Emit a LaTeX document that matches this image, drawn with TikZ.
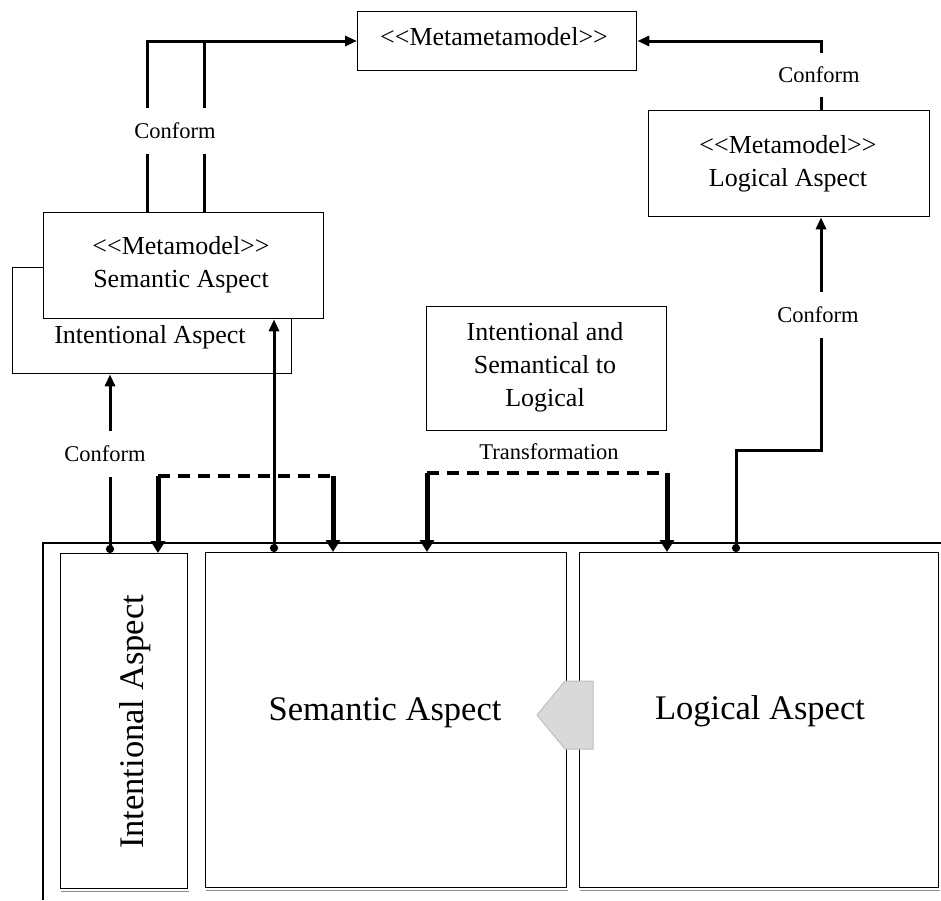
\documentclass[tikz,border=0pt]{standalone}
\usepackage{fontspec}
\setmainfont{Liberation Serif}
\usetikzlibrary{arrows.meta,calc}
\begin{document}
\begin{tikzpicture}[x=1pt,y=-1pt,
  box/.style={draw,line width=1.3pt,fill=white,inner sep=0pt},
  mid/.style={font=\fontsize{26}{33}\selectfont,align=center,inner sep=0pt},
  small/.style={font=\fontsize{22.5}{25}\selectfont,inner sep=0pt},
  big/.style={font=\fontsize{34.5}{38}\selectfont,inner sep=0pt},
  gap/.style={small,fill=white,minimum height=#1},
  conn/.style={line width=3pt,-{Triangle[length=12pt,width=10pt]}},
  dotconn/.style={line width=3pt,{Circle[length=8pt]}-{Triangle[length=12pt,width=10pt]}},
  tline/.style={line width=3.6pt,dash pattern=on 12pt off 8pt},
  tdrop/.style={line width=5pt,-{Triangle[length=12pt,width=14pt]}},
  shade/.style={draw=black!45,line width=1.2pt}]
\useasboundingbox (0,0) rectangle (941,900);

% ---- upper models
\node[box,anchor=north west,minimum width=279pt,minimum height=59pt] (mm) at (357,11) {};
\node[mid] (mmt) at (494,37) {{<}{<}Metametamodel{>}{>}};

\node[box,anchor=north west,minimum width=279pt,minimum height=106pt] (intb) at (12,267) {};
\node[box,anchor=north west,minimum width=280pt,minimum height=106pt] (sem) at (43,212) {};
\node[mid] (semt) at (181,265) {{<}{<}Metamodel{>}{>}\\Semantic Aspect};
\node[mid] (intbt) at (150,337) {Intentional Aspect};

\node[box,anchor=north west,minimum width=281pt,minimum height=106pt] (mlog) at (648,110) {};
\node[mid] (mlogt) at (788,164) {{<}{<}Metamodel{>}{>}\\Logical Aspect};

\node[box,anchor=north west,minimum width=240pt,minimum height=124pt] (tr) at (426,306) {};
\node[mid] (trt) at (545,367) {Intentional and\\Semantical to\\Logical};
\node[small] (trl) at (549,452) {Transformation};

% ---- lower frame and aspects
\draw[line width=1.3pt] (43,900) -- (43,543) -- (941,543);
\node[box,anchor=north west,minimum width=127pt,minimum height=335pt] (int) at (60,553) {};
\node[box,anchor=north west,minimum width=361pt,minimum height=335pt] (se) at (205,552) {};
\node[box,anchor=north west,minimum width=359pt,minimum height=335pt] (lo) at (579,552) {};
% faint second line under each aspect
\foreach \b in {int,se,lo}
  \draw[shade] ($(\b.south west)+(1,2.2)$) -- ($(\b.south east)+(1,2.2)$);
\node[big,rotate=90] (intt) at (135,722) {Intentional Aspect};
\node[big] (set) at (385,713) {Semantic Aspect};
\node[big] (lot) at (760,711) {Logical Aspect};

% grey block arrow between the two aspects
\draw[draw=black!25,fill=black!15,line width=1pt]
  (537,715) -- (565,681) -- (593,681) -- (593,749) -- (565,749) -- cycle;

% ---- conform: semantic metamodel to metametamodel
\coordinate (xa) at (147,0);
\coordinate (xb) at (204,0);
\coordinate (ytop) at (0,41);
\draw[conn] (sem.north -| xa) -- (xa |- ytop) -- (mm.west |- ytop);
\draw[line width=3pt] (sem.north -| xb) -- (xb |- ytop);
\node[gap=46pt] (cf1) at (175,131) {Conform};

% ---- conform: logical metamodel to metametamodel
\coordinate (xc) at (821,0);
\draw[conn] (mlog.north -| xc) -- (xc |- ytop) -- (mm.east |- ytop);
\node[gap=44pt] (cf2) at (819,75) {Conform};

% ---- conform: intentional aspect to its metamodel
\coordinate (xd) at (110,0);
\draw[dotconn] (int.north -| xd) -- (xd |- intb.south);
\node[gap=46pt] (cf3) at (105,454) {Conform};

% ---- conform: semantic aspect to its metamodel
\coordinate (xe) at (274,0);
\draw[dotconn] (se.north -| xe) -- (xe |- sem.south);

% ---- conform: logical aspect to its metamodel
\coordinate (xf) at (736,0);
\coordinate (yf) at (0,450);
\draw[dotconn] (lo.north -| xf) -- (xf |- yf) -- (xc |- yf) -- (xc |- mlog.south);
\node[gap=46pt] (cf4) at (818,315) {Conform};

% ---- dashed links into the aspects
\coordinate (d1) at (158,476);
\coordinate (d2) at (333,476);
\draw[tline] (d1) -- (d2);
\draw[tdrop] (d1) -- (d1 |- int.north);
\draw[tdrop] (d2) -- (d2 |- se.north);

\coordinate (t1) at (427,473);
\coordinate (t2) at (667,473);
\draw[tline] (t1) -- (t2);
\draw[tdrop] (t1) -- (t1 |- se.north);
\draw[tdrop] (t2) -- (t2 |- lo.north);
\end{tikzpicture}
\end{document}
